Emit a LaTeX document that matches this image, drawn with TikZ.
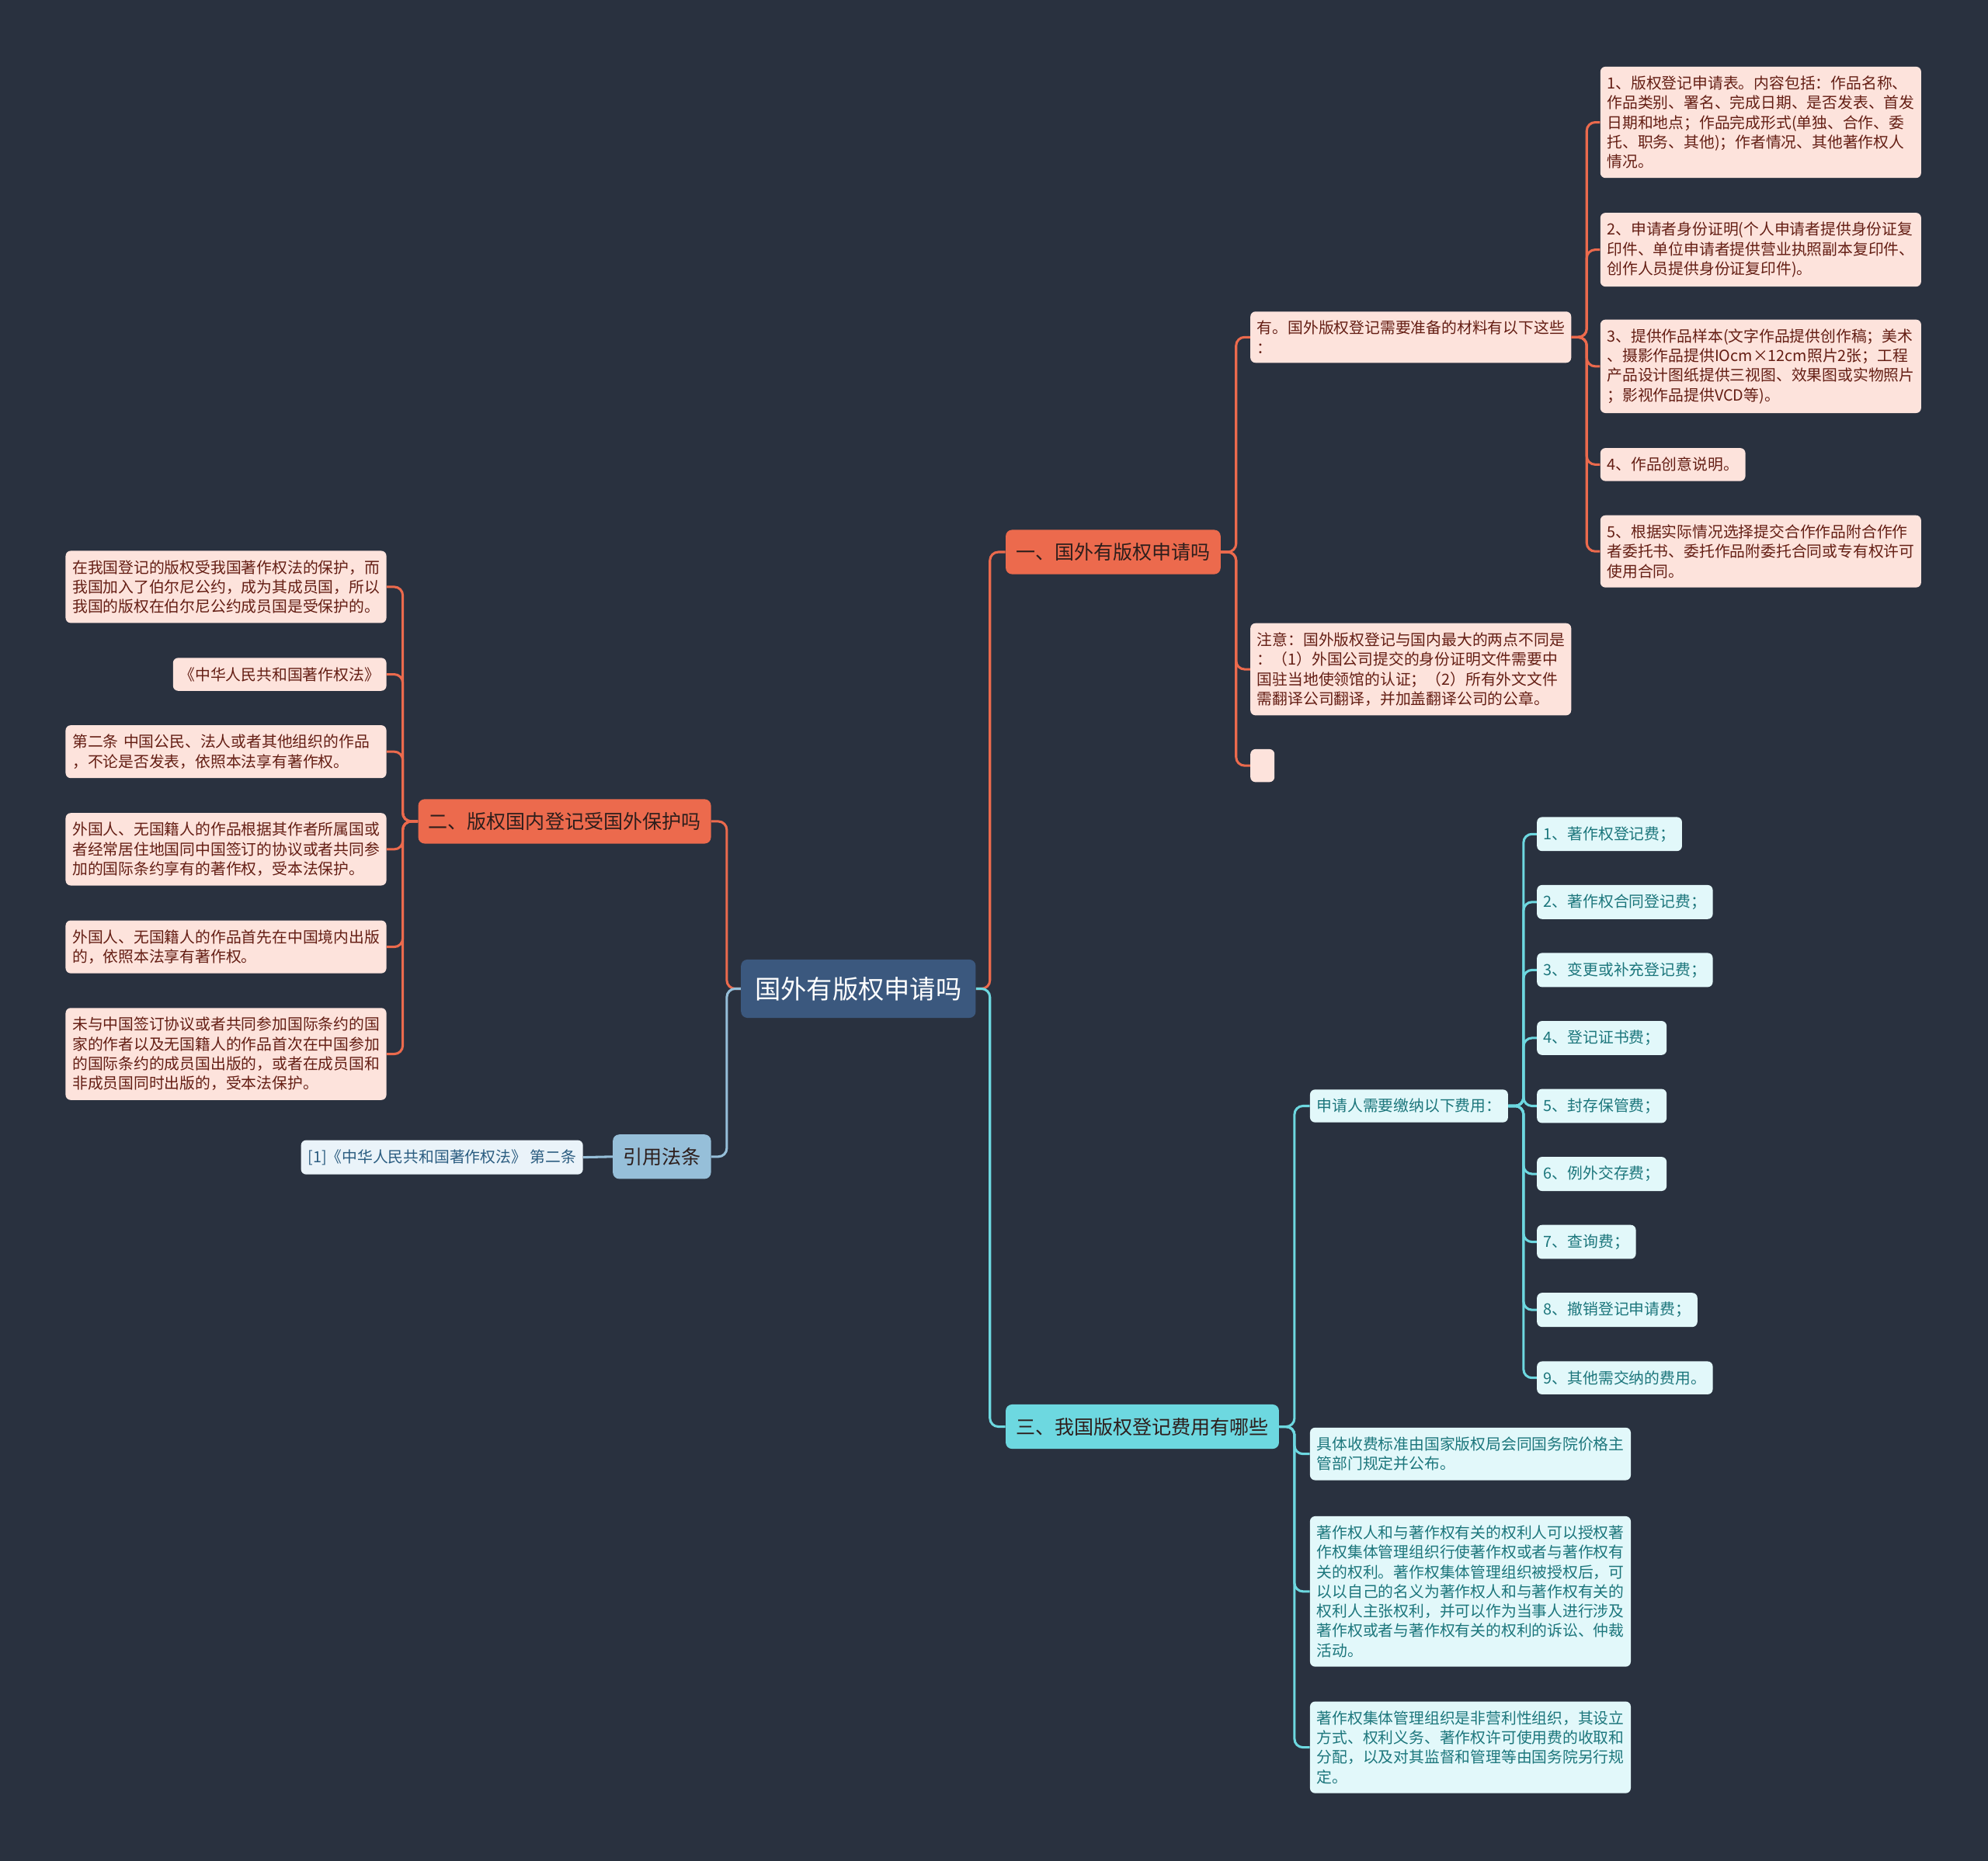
\documentclass[tikz,border=0pt]{standalone}
\usepackage{fontspec}
\setmainfont{Noto Sans CJK SC}
\usepackage{xcolor}
\usepackage{tikz}

\definecolor{bgnavy}{RGB}{41,49,63}
\definecolor{rootblue}{RGB}{59,88,126}
\definecolor{orangemain}{RGB}{236,106,77}
\definecolor{orangeleaf}{RGB}{253,227,220}
\definecolor{orangetext}{RGB}{100,30,20}
\definecolor{cyanmain}{RGB}{109,216,224}
\definecolor{cyanleaf}{RGB}{226,248,250}
\definecolor{cyantext}{RGB}{28,118,124}
\definecolor{refmain}{RGB}{150,191,217}
\definecolor{refleaf}{RGB}{234,243,249}
\definecolor{reftext}{RGB}{42,92,128}
\definecolor{darktext}{RGB}{45,30,28}

\begin{document}
\begin{tikzpicture}[x=0.03cm, y=-0.03cm,
  leaf/.style={rounded corners=0.12cm, inner xsep=0.16cm, inner ysep=0.22cm, font=\fontsize{10.35}{13.2}\selectfont},
  wide/.style={text width=7.27cm, align=left},
  oleaf/.style={leaf, fill=orangeleaf, text=orangetext},
  cleaf/.style={leaf, fill=cyanleaf, text=cyantext},
  rleaf/.style={leaf, fill=refleaf, text=reftext},
  branch/.style={rounded corners=0.15cm, inner xsep=0.24cm, minimum height=1.05cm, font=\fontsize{13.1}{15}\selectfont, text=darktext},
  oline/.style={draw=orangemain, line width=1.6pt, rounded corners=0.2cm},
  cline/.style={draw=cyanmain, line width=1.6pt, rounded corners=0.2cm},
  rline/.style={draw=refmain, line width=1.6pt, rounded corners=0.2cm}]

% Background
\fill[bgnavy] (0,0) rectangle (1568,1468);

% Root and main branches
\node[fill=rootblue, text=white, rounded corners=0.15cm, inner xsep=0.33cm, minimum height=1.38cm, font=\fontsize{17.4}{20}\selectfont] (root) at (677,780) {国外有版权申请吗};
\node[branch, fill=orangemain, anchor=west] (b1) at (793,435.5) {一、国外有版权申请吗};
\node[branch, fill=orangemain, anchor=east] (b2) at (561,648) {二、版权国内登记受国外保护吗};
\node[branch, fill=cyanmain, anchor=west] (b3) at (793,1125.5) {三、我国版权登记费用有哪些};
\node[branch, fill=refmain, anchor=east] (ref) at (561,912.5) {引用法条};

% Branch one
\node[oleaf, wide, anchor=west] (c11) at (986,266) {有。国外版权登记需要准备的材料有以下这些\\：};
\node[oleaf, wide, anchor=west] (c12) at (986,528) {注意：国外版权登记与国内最大的两点不同是\\：（1）外国公司提交的身份证明文件需要中\\国驻当地使领馆的认证；（2）所有外文文件\\需翻译公司翻译，并加盖翻译公司的公章。};
\node[oleaf, minimum width=0.57cm, minimum height=0.78cm, anchor=west] (c13) at (986,604) {};

\node[oleaf, wide, anchor=west] (d1) at (1262,96.5) {1、版权登记申请表。内容包括：作品名称、\\作品类别、署名、完成日期、是否发表、首发\\日期和地点；作品完成形式(单独、合作、委\\托、职务、其他)；作者情况、其他著作权人\\情况。};
\node[oleaf, wide, anchor=west] (d2) at (1262,197) {2、申请者身份证明(个人申请者提供身份证复\\印件、单位申请者提供营业执照副本复印件、\\创作人员提供身份证复印件)。};
\node[oleaf, wide, anchor=west] (d3) at (1262,289) {3、提供作品样本(文字作品提供创作稿；美术\\、摄影作品提供IOcm×12cm照片2张；工程\\产品设计图纸提供三视图、效果图或实物照片\\；影视作品提供VCD等)。};
\node[oleaf, anchor=west] (d4) at (1262,366.5) {4、作品创意说明。};
\node[oleaf, wide, anchor=west] (d5) at (1262,435) {5、根据实际情况选择提交合作作品附合作作\\者委托书、委托作品附委托合同或专有权许可\\使用合同。};

% Branch two
\node[oleaf, wide, anchor=east] (e1) at (305,463) {在我国登记的版权受我国著作权法的保护，而\\我国加入了伯尔尼公约，成为其成员国，所以\\我国的版权在伯尔尼公约成员国是受保护的。};
\node[oleaf, anchor=east] (e2) at (305,532) {《中华人民共和国著作权法》};
\node[oleaf, wide, anchor=east] (e3) at (305,593) {第二条 中国公民、法人或者其他组织的作品\\，不论是否发表，依照本法享有著作权。};
\node[oleaf, wide, anchor=east] (e4) at (305,670) {外国人、无国籍人的作品根据其作者所属国或\\者经常居住地国同中国签订的协议或者共同参\\加的国际条约享有的著作权，受本法保护。};
\node[oleaf, wide, anchor=east] (e5) at (305,747) {外国人、无国籍人的作品首先在中国境内出版\\的，依照本法享有著作权。};
\node[oleaf, wide, anchor=east] (e6) at (305,831.5) {未与中国签订协议或者共同参加国际条约的国\\家的作者以及无国籍人的作品首次在中国参加\\的国际条约的成员国出版的，或者在成员国和\\非成员国同时出版的，受本法保护。};

% Quoted law
\node[rleaf, anchor=east] (r1) at (460,913) {[1]《中华人民共和国著作权法》 第二条};

% Branch three
\node[cleaf, anchor=west] (f1) at (1033,872.5) {申请人需要缴纳以下费用：};
\node[cleaf, wide, anchor=west] (f2) at (1033,1147) {具体收费标准由国家版权局会同国务院价格主\\管部门规定并公布。};
\node[cleaf, wide, anchor=west] (f3) at (1033,1255.5) {著作权人和与著作权有关的权利人可以授权著\\作权集体管理组织行使著作权或者与著作权有\\关的权利。著作权集体管理组织被授权后，可\\以以自己的名义为著作权人和与著作权有关的\\权利人主张权利，并可以作为当事人进行涉及\\著作权或者与著作权有关的权利的诉讼、仲裁\\活动。};
\node[cleaf, wide, anchor=west] (f4) at (1033,1378.5) {著作权集体管理组织是非营利性组织，其设立\\方式、权利义务、著作权许可使用费的收取和\\分配，以及对其监督和管理等由国务院另行规\\定。};

\foreach \t [count=\i] in {1、著作权登记费；, 2、著作权合同登记费；, 3、变更或补充登记费；, 4、登记证书费；, 5、封存保管费；, 6、例外交存费；, 7、查询费；, 8、撤销登记申请费；, 9、其他需交纳的费用。}
{
    \node[cleaf, anchor=west] (g\i) at (1212,{658+53.625*(\i-1)}) {\t};
}

% Connectors
\draw[oline] (root.east) -- ++(11,0) |- (b1.west);
\draw[cline] (root.east) -- ++(11,0) |- (b3.west);
\draw[oline] (root.west) -- ++(-11,0) |- (b2.east);
\draw[rline] (root.west) -- ++(-11,0) |- (ref.east);
\draw[rline] (ref.west) -- (r1.east);

\foreach \n in {c11, c12, c13}
{
    \draw[oline] (b1.east) -- ++(12,0) |- (\n.west);
}
\foreach \n in {d1, d2, d3, d4, d5}
{
    \draw[oline] (c11.east) -- ++(12,0) |- (\n.west);
}
\foreach \n in {e1, e2, e3, e4, e5, e6}
{
    \draw[oline] (b2.west) -- ++(-12,0) |- (\n.east);
}
\foreach \n in {f1, f2, f3, f4}
{
    \draw[cline] (b3.east) -- ++(12,0) |- (\n.west);
}
\foreach \i in {1,...,9}
{
    \draw[cline] (f1.east) -- ++(12,0) |- (g\i.west);
}

\end{tikzpicture}
\end{document}
